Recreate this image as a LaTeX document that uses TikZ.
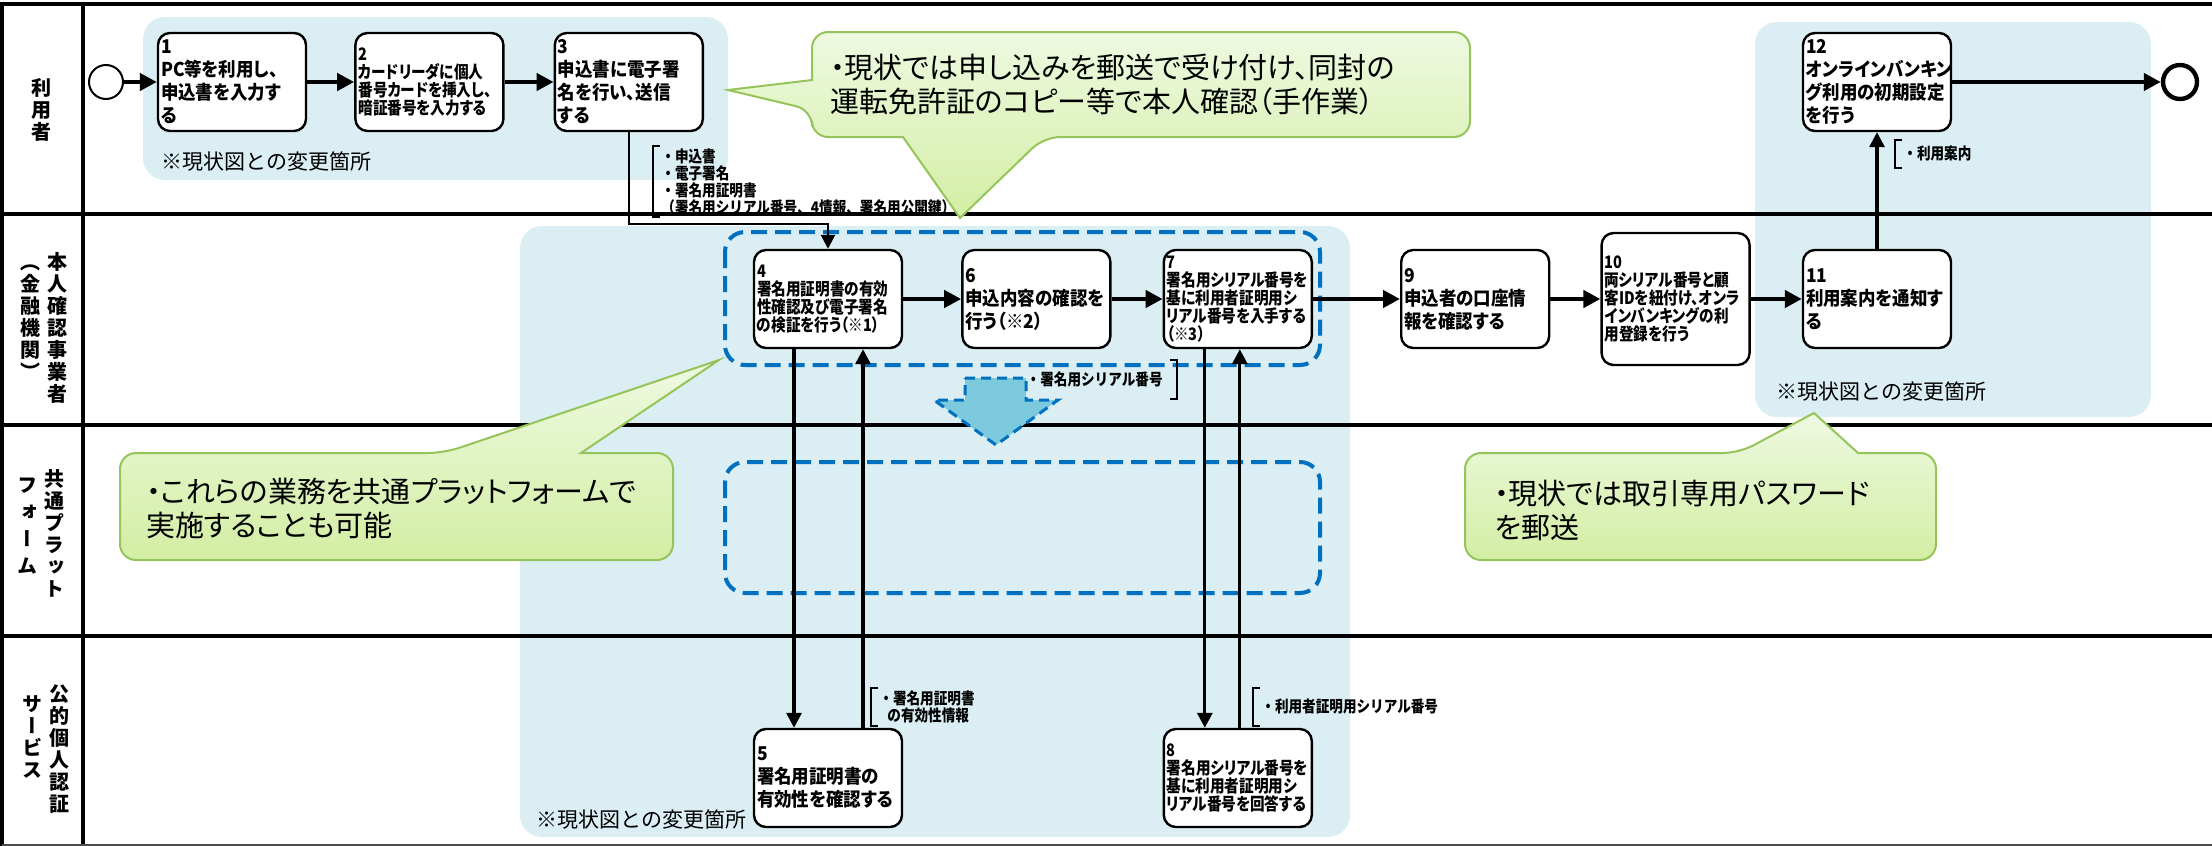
\documentclass[tikz,border=0pt]{standalone}
\usepackage{fontspec}
\newfontfamily\jp{Noto Sans CJK JP}
\newfontfamily\jpp[RawFeature=+palt]{Noto Sans CJK JP}
\newfontfamily\jpb[RawFeature=+palt,FakeStretch=0.92]{Noto Sans CJK JP}
\newfontfamily\jpc[RawFeature=+palt,FakeStretch=0.85]{Noto Sans CJK JP}
\newfontfamily\jpm[FakeStretch=0.85]{Noto Sans CJK JP}
\newfontfamily\jpv[RawFeature=+vert]{Noto Sans CJK JP}
\usetikzlibrary{positioning, calc, arrows.meta}
\definecolor{regionblue}{HTML}{DAEEF3}
\definecolor{dashblue}{HTML}{0070C0}
\definecolor{arrowblue}{HTML}{7DC9DD}
\definecolor{calloutline}{HTML}{95C55A}
\definecolor{callouttop}{HTML}{EEF9E1}
\definecolor{calloutbottom}{HTML}{D3EEA4}

\begin{document}
\begin{tikzpicture}[x=0.5pt, y=-0.5pt, node distance=25pt,
    frame/.style={line width=1.8pt},
    region/.style={fill=regionblue, rounded corners=11pt},
    dashbox/.style={draw=dashblue, line width=2pt, dash pattern=on 8pt off 4pt, rounded corners=10pt},
    bigarrow/.style={fill=arrowblue, draw=dashblue, line width=1.5pt, dash pattern=on 5pt off 3pt},
    task/.style={draw, line width=1.2pt, rounded corners=6pt, fill=white, minimum width=74pt, minimum height=49pt, text width=71pt, inner xsep=1.5pt, inner ysep=1pt, align=left, font=\jpb\bfseries\fontsize{9.5pt}{11.5pt}\selectfont},
    smalltask/.style={task, font=\jpc\bfseries\fontsize{8.6pt}{9pt}\selectfont},
    startev/.style={circle, draw, line width=1pt, minimum size=17pt, inner sep=0pt},
    endev/.style={circle, draw, line width=2.2pt, minimum size=17pt, inner sep=0pt},
    flow/.style={line width=2.2pt, -{Triangle[length=8.5pt, width=8.5pt]}},
    flowv/.style={line width=1.6pt, -{Triangle[length=7.5pt, width=7.5pt]}},
    flowe/.style={line width=1.3pt, -{Triangle[length=7pt, width=7pt]}},
    memo/.style={inner xsep=4pt, inner ysep=1pt, align=left, font=\jpm\bfseries\fontsize{8pt}{8.5pt}\selectfont},
    brk/.style={line width=1.1pt},
    chg/.style={inner sep=0pt, font=\jp\fontsize{10.5pt}{11pt}\selectfont},
    lanelbl/.style={inner sep=0pt, align=center, font=\jpv\bfseries\fontsize{10pt}{11pt}\selectfont},
    callout/.style={draw=calloutline, line width=1pt, top color=callouttop, bottom color=calloutbottom},
    calltext/.style={inner sep=0pt, align=left, font=\jpp\fontsize{14.5pt}{17pt}\selectfont}]

    \useasboundingbox (0,0) rectangle (2212,846);

    \fill[region] (143,17) rectangle (728,180);
    \fill[region] (1755,22) rectangle (2151,417);
    \fill[region] (520,226) rectangle (1350,837);

    \draw[frame] (0,4) -- (2212,4);
    \draw[frame] (2,4) -- (2,846);
    \draw[frame] (83,4) -- (83,846);
    \foreach \y in {214,425,636}
        \draw[frame] (2,\y) -- (2212,\y);
    \draw[line width=1pt, black!70] (2,845) -- (2212,845);

    \node[lanelbl] (l1) at (42,110) {利\\用\\者};
    \node[lanelbl] (l2) at (57,328) {本\\人\\確\\認\\事\\業\\者};
    \node[lanelbl] (l2b) at (30,322) {（\\金\\融\\機\\関\\）};
    \node[lanelbl] (l3) at (54,533) {共\\通\\プ\\ラ\\ッ\\ト};
    \node[lanelbl, font=\jpv\bfseries\fontsize{10pt}{13.5pt}\selectfont] (l3b) at (28,526) {フ\\ォ\\ー\\ム};
    \node[lanelbl] (l4) at (59,749) {公\\的\\個\\人\\認\\証};
    \node[lanelbl] (l4b) at (33,737) {サ\\ー\\ビ\\ス};

    \draw[dashbox] (725,232) rectangle (1320,365);
    \draw[dashbox] (725,462) rectangle (1320,593);
    \draw[bigarrow] (965,378) -- (1026,378) -- (1026,400) -- (1058,400) -- (996,445) -- (934,400) -- (965,400) -- cycle;

    \node[chg, anchor=west] (n1) at (161,162) {※現状図との変更箇所};
    \node[chg, anchor=west] (n2) at (1776,392) {※現状図との変更箇所};
    \node[chg, anchor=west] (n3) at (536,820) {※現状図との変更箇所};

    \node[startev] (st) at (106,82) {};
    \node[task] (b1) at (232,82) {1\\PC等を利用し、\\申込書を入力す\\る};
    \node[smalltask, right=23.5pt of b1] (b2) {2\\カードリーダに個人\\番号カードを挿入し、\\暗証番号を入力する};
    \node[task, right=24.5pt of b2] (b3) {3\\申込書に電子署\\名を行い、送信\\する};
    \node[smalltask] (b4) at (828,299) {4\\署名用証明書の有効\\性確認及び電子署名\\の検証を行う（※1）};
    \node[task, right=29pt of b4] (b6) {6\\申込内容の確認を\\行う（※2）};
    \node[smalltask, right=25.5pt of b6] (b7) {7\\署名用シリアル番号を\\基に利用者証明用シ\\リアル番号を入手する\\（※3）};
    \node[task, right=43.5pt of b7] (b9) {9\\申込者の口座情\\報を確認する};
    \node[smalltask, minimum height=66pt, right=25pt of b9] (b10) {10\\両シリアル番号と顧\\客IDを紐付け、オンラ\\インバンキングの利\\用登録を行う};
    \node[task, right=25.5pt of b10] (b11) {11\\利用案内を通知す\\る};
    \node[task] (b12) at (b11 |- b3) {12\\オンラインバンキン\\グ利用の初期設定\\を行う};
    \node[task] (b5) at (828,778) {5\\署名用証明書の\\有効性を確認する};
    \node[smalltask] (b8) at (b7 |- b5) {8\\署名用シリアル番号を\\基に利用者証明用シ\\リアル番号を回答する};
    \node[endev] (en) at (2180,82) {};

    \draw[flow] (st) -- (b1);
    \draw[flow] (b1) -- (b2);
    \draw[flow] (b2) -- (b3);
    \coordinate (turn) at ($(b4.north)+(0,-25)$);
    \draw[flowe] (b3.south) |- (turn) -- (b4.north);
    \draw[flow] (b4) -- (b6);
    \draw[flow] (b6) -- (b7);
    \draw[flow] (b7) -- (b9);
    \draw[flow] (b9) -- (b10);
    \draw[flow] (b10) -- (b11);
    \draw[flowv] (b11) -- (b12);
    \draw[flow] (b12) -- (en);
    \draw[flowv] ($(b4.south)+(-34,0)$) -- ($(b5.north)+(-34,0)$);
    \draw[flowv] ($(b5.north)+(35,0)$) -- ($(b4.south)+(35,0)$);
    \draw[flowv] ($(b7.south)+(-33,0)$) -- ($(b8.north)+(-33,0)$);
    \draw[flowv] ($(b8.north)+(2,0)$) -- ($(b7.south)+(2,0)$);

    \node[memo, anchor=north west] (m3) at (653,146) {・申込書\\・電子署名\\・署名用証明書\\（署名用シリアル番号、4情報、署名用公開鍵）};
    \draw[brk] ($(m3.north west)+(7,0)$) -- (m3.north west) -- (m3.south west) -- ($(m3.south west)+(7,0)$);
    \node[memo, anchor=north west, minimum height=13.5pt] (m11) at (1895,140) {・利用案内};
    \draw[brk] ($(m11.north west)+(7,0)$) -- (m11.north west) -- (m11.south west) -- ($(m11.south west)+(7,0)$);
    \node[memo, anchor=north east, minimum height=19pt, inner xsep=7pt] (mA) at (1177,360) {・署名用シリアル番号};
    \draw[brk] ($(mA.north east)+(-7,0)$) -- (mA.north east) -- (mA.south east) -- ($(mA.south east)+(-7,0)$);
    \node[memo, anchor=north west, minimum height=18.5pt] (m5) at (871,688) {・署名用証明書\\\hspace{4pt}の有効性情報};
    \draw[brk] ($(m5.north west)+(7,0)$) -- (m5.north west) -- (m5.south west) -- ($(m5.south west)+(7,0)$);
    \node[memo, anchor=north west, minimum height=18.5pt] (m8) at (1253,688) {・利用者証明用シリアル番号};
    \draw[brk] ($(m8.north west)+(7,0)$) -- (m8.north west) -- (m8.south west) -- ($(m8.south west)+(7,0)$);

    \draw[callout] (812,32) [rounded corners=8pt] -- (1470,32) -- (1470,137) -- (1044,137) [sharp corners] -- (960,218) -- (903,137) [rounded corners=8pt] -- (812,137) -- (812,110) [sharp corners] -- (728,90) -- (812,80) [rounded corners=8pt] -- cycle;
    \node[calltext, anchor=west] (c1) at (830,85) {・現状では申し込みを郵送で受け付け、同封の\\運転免許証のコピー等で本人確認（手作業）};
    \draw[callout] (120,453) [rounded corners=8pt] -- (444,453) [sharp corners] -- (719,360) -- (581,453) [rounded corners=8pt] -- (673,453) -- (673,560) -- (120,560) -- cycle;
    \node[calltext, anchor=west] (c2) at (146,508) {・これらの業務を共通プラットフォームで\\実施することも可能};
    \draw[callout] (1465,453) [rounded corners=8pt] -- (1739,453) [sharp corners] -- (1814,413) -- (1858,453) [rounded corners=8pt] -- (1936,453) -- (1936,560) -- (1465,560) -- cycle;
    \node[calltext, anchor=west] (c3) at (1494,510) {・現状では取引専用パスワード\\を郵送};
\end{tikzpicture}
\end{document}
